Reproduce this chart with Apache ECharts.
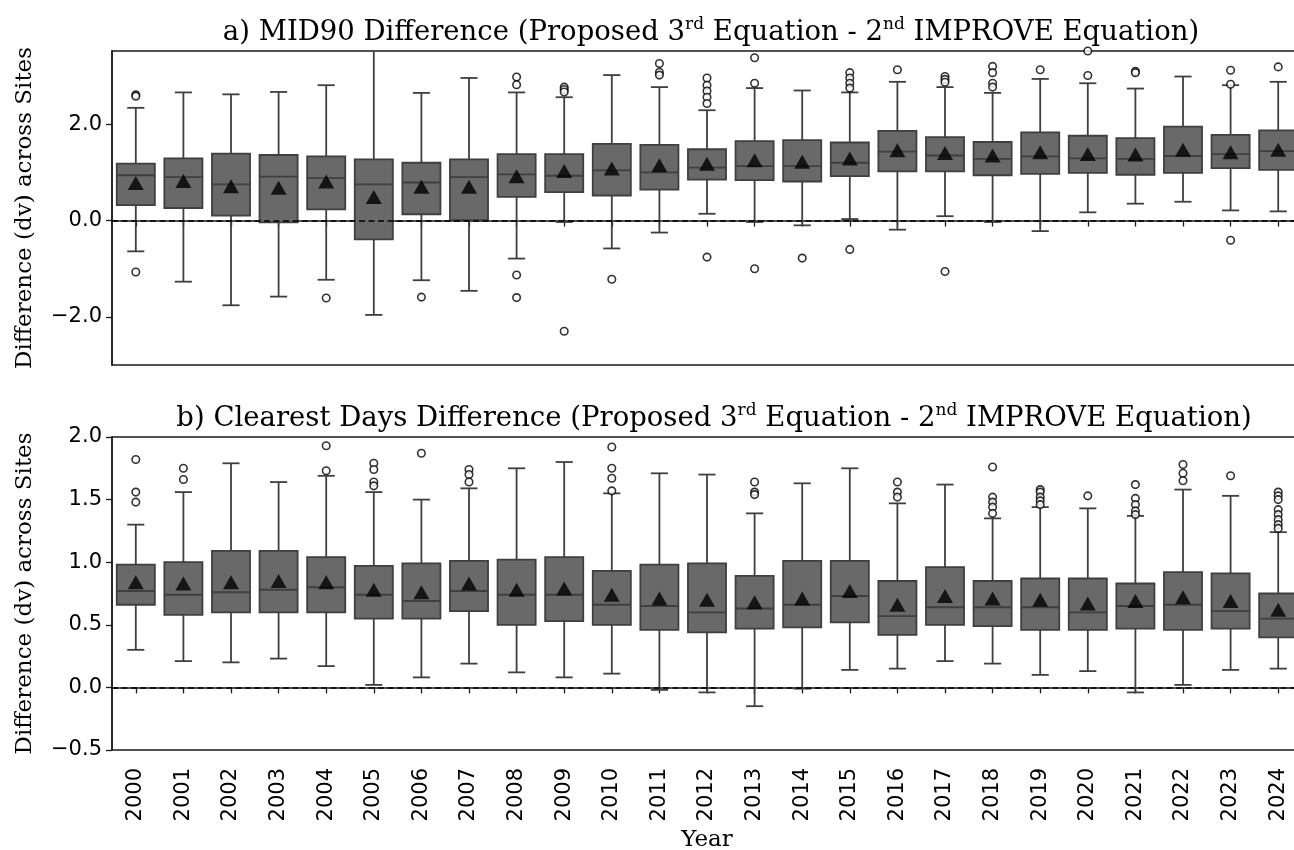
<!DOCTYPE html>
<html>
<head>
<meta charset="utf-8">
<script src="https://cdn.jsdelivr.net/npm/echarts@6/dist/echarts.min.js"></script>
<style>
  html, body { margin: 0; padding: 0; background: #fff; }
  #chart { width: 1294px; height: 850px; }
</style>
</head>
<body>
<div id="chart"></div>
<script>
// Years on the category axis
const years = ['2000','2001','2002','2003','2004','2005','2006','2007','2008','2009','2010','2011','2012',
               '2013','2014','2015','2016','2017','2018','2019','2020','2021','2022','2023','2024'];

// a) MID90 difference: whisker ends, quartiles, median, mean, outliers (dv)
const midLow  = [-0.64,-1.27,-1.76,-1.58,-1.23,-1.96,-1.24,-1.46,-0.79,-0.03,-0.58,-0.25,0.14,-0.03,-0.10,0.03,-0.19,0.09,-0.03,-0.22,0.17,0.35,0.39,0.21,0.19];
const midQ1   = [0.32,0.26,0.10,-0.04,0.23,-0.39,0.13,0.01,0.49,0.59,0.52,0.64,0.85,0.84,0.81,0.92,1.02,1.02,0.94,0.97,0.99,0.95,0.99,1.09,1.05];
const midMed  = [0.94,0.90,0.75,0.91,0.88,0.75,0.79,0.90,0.96,0.93,1.04,1.00,1.10,1.13,1.13,1.20,1.43,1.35,1.28,1.33,1.29,1.28,1.34,1.38,1.44];
const midQ3   = [1.18,1.29,1.39,1.36,1.33,1.27,1.20,1.27,1.38,1.38,1.59,1.57,1.48,1.65,1.67,1.62,1.86,1.73,1.63,1.83,1.76,1.71,1.95,1.78,1.87];
const midHigh = [2.34,2.66,2.62,2.67,2.81,3.60,2.65,2.96,2.66,2.56,3.02,2.77,2.29,2.75,2.70,2.66,2.88,2.77,2.65,2.94,2.85,2.74,2.99,2.81,2.88];
const midMean = [0.78,0.82,0.71,0.68,0.81,0.49,0.70,0.70,0.92,1.03,1.08,1.15,1.18,1.25,1.22,1.29,1.46,1.40,1.35,1.42,1.38,1.37,1.47,1.42,1.47];
const midOutliers = [
  [2.61,2.58,-1.07], [], [], [], [-1.61], [], [-1.59], [],
  [2.98,2.82,-1.13,-1.60], [2.77,2.72,2.67,-2.30], [-1.22], [3.26,3.08,3.02],
  [2.96,2.81,2.69,2.56,2.43,-0.76], [3.38,2.85,-1.00], [-0.78], [3.07,2.96,2.85,2.75,-0.60],
  [3.13], [2.99,2.93,2.87,-1.06], [3.20,3.07,2.85,2.77], [3.13], [3.52,3.01], [3.10,3.07],
  [], [3.12,2.83,-0.41], [3.19]
];

// b) Clearest days difference (dv)
const clrLow  = [0.30,0.21,0.20,0.23,0.17,0.02,0.08,0.19,0.12,0.08,0.11,-0.02,-0.04,-0.15,-0.01,0.14,0.15,0.21,0.19,0.10,0.13,-0.04,0.02,0.14,0.15];
const clrQ1   = [0.66,0.58,0.60,0.60,0.60,0.55,0.55,0.61,0.50,0.53,0.50,0.46,0.44,0.47,0.48,0.52,0.42,0.50,0.49,0.46,0.46,0.47,0.46,0.47,0.40];
const clrMed  = [0.77,0.74,0.76,0.78,0.80,0.74,0.69,0.77,0.74,0.74,0.66,0.65,0.60,0.63,0.66,0.73,0.57,0.64,0.64,0.64,0.60,0.65,0.66,0.61,0.55];
const clrQ3   = [0.98,1.00,1.09,1.09,1.04,0.97,0.99,1.01,1.02,1.04,0.93,0.98,0.99,0.89,1.01,1.01,0.85,0.96,0.85,0.87,0.87,0.83,0.92,0.91,0.75];
const clrHigh = [1.30,1.56,1.79,1.64,1.69,1.56,1.50,1.59,1.75,1.80,1.55,1.71,1.70,1.39,1.63,1.75,1.47,1.62,1.35,1.44,1.43,1.37,1.58,1.53,1.24];
const clrMean = [0.84,0.83,0.84,0.85,0.84,0.78,0.76,0.83,0.78,0.79,0.74,0.71,0.70,0.68,0.71,0.77,0.66,0.73,0.71,0.70,0.67,0.69,0.72,0.69,0.62];
const clrOutliers = [
  [1.82,1.56,1.48], [1.75,1.66], [], [], [1.93,1.73], [1.79,1.74,1.64,1.61], [1.87], [1.74,1.70,1.64],
  [], [], [1.92,1.75,1.67,1.57], [], [], [1.64,1.56,1.54], [], [],
  [1.64,1.56,1.52], [], [1.76,1.52,1.48,1.44,1.39], [1.58,1.56,1.52,1.49,1.46], [1.53],
  [1.62,1.51,1.46,1.41,1.38], [1.78,1.71,1.65], [1.69], [1.56,1.53,1.50,1.42,1.38,1.34,1.30,1.27]
];

// Tick values on the y axes
const midTicks = [-2, 0, 2];
const clrTicks = [-0.5, 0, 0.5, 1.0, 1.5, 2.0];

const SERIF = 'DejaVu Serif';
const SANS = 'DejaVu Sans';
const BOX_FILL = '#696969';
const BOX_LINE = '#3f3f3f';

function fmtTick(v) {
  return (v < 0 ? '\u2212' : '') + Math.abs(v).toFixed(1);
}

// Box, whiskers and caps drawn through the axis scales
function renderBox(params, api) {
  const i = api.value(0);
  const lo = api.coord([i, api.value(1)]);
  const q1 = api.coord([i, api.value(2)]);
  const md = api.coord([i, api.value(3)]);
  const q3 = api.coord([i, api.value(4)]);
  const hi = api.coord([i, api.value(5)]);
  const band = api.size([1, 0])[0];
  const bw = band * 0.8;
  const cw = band * 0.36;
  const cx = lo[0];
  const seg = (x1, y1, x2, y2) => ({
    type: 'line',
    shape: { x1, y1, x2, y2 },
    style: { stroke: BOX_LINE, lineWidth: 1.8 }
  });
  return {
    type: 'group',
    children: [
      seg(cx, hi[1], cx, q3[1]),
      seg(cx, q1[1], cx, lo[1]),
      seg(cx - cw / 2, hi[1], cx + cw / 2, hi[1]),
      seg(cx - cw / 2, lo[1], cx + cw / 2, lo[1]),
      {
        type: 'rect',
        shape: { x: cx - bw / 2, y: q3[1], width: bw, height: q1[1] - q3[1] },
        style: { fill: BOX_FILL, stroke: BOX_LINE, lineWidth: 1.8 }
      },
      seg(cx - bw / 2, md[1], cx + bw / 2, md[1])
    ]
  };
}

function boxData(low, q1, med, q3, high) {
  return years.map((y, i) => [i, low[i], q1[i], med[i], q3[i], high[i]]);
}
function meanData(mean) {
  return years.map((y, i) => [i, mean[i]]);
}
function outlierData(out) {
  const pts = [];
  out.forEach((vals, i) => vals.forEach(v => pts.push([i, v])));
  return pts;
}

function panelSeries(idx, low, q1, med, q3, high, mean, out) {
  return [
    {
      type: 'custom',
      xAxisIndex: idx, yAxisIndex: idx,
      renderItem: renderBox,
      clip: true,
      encode: { x: 0, y: [1, 2, 3, 4, 5] },
      data: boxData(low, q1, med, q3, high),
      z: 2
    },
    {
      type: 'line',
      xAxisIndex: idx, yAxisIndex: idx,
      data: [],
      z: 3,
      markLine: {
        silent: true,
        symbol: 'none',
        label: { show: false },
        lineStyle: { color: '#000', width: 1.7, type: [6, 3.5] },
        data: [{ yAxis: 0 }]
      }
    },
    {
      type: 'scatter',
      xAxisIndex: idx, yAxisIndex: idx,
      symbol: 'triangle',
      symbolSize: [16, 14],
      itemStyle: { color: '#000' },
      data: meanData(mean),
      z: 4
    },
    {
      type: 'scatter',
      xAxisIndex: idx, yAxisIndex: idx,
      symbol: 'circle',
      symbolSize: 7.5,
      clip: false,
      itemStyle: { color: '#fff', borderColor: '#000', borderWidth: 1.6 },
      data: outlierData(out),
      z: 5
    }
  ];
}

const titleRich = {
  sup: { fontFamily: SERIF, fontSize: 17, color: '#000', verticalAlign: 'top', lineHeight: 34 }
};

const axisLineStyle = { color: '#1a1a1a', width: 1.5 };

const option = {
  animation: false,
  backgroundColor: '#fff',
  title: [
    {
      text: 'a) MID90 Difference (Proposed 3{sup|rd} Equation - 2{sup|nd} IMPROVE Equation)',
      left: 706, top: 11, textAlign: 'center',
      textStyle: { fontFamily: SERIF, fontSize: 27.5, fontWeight: 'normal', color: '#000', lineHeight: 34, rich: titleRich }
    },
    {
      text: 'b) Clearest Days Difference (Proposed 3{sup|rd} Equation - 2{sup|nd} IMPROVE Equation)',
      left: 709, top: 397, textAlign: 'center',
      textStyle: { fontFamily: SERIF, fontSize: 27.5, fontWeight: 'normal', color: '#000', lineHeight: 34, rich: titleRich }
    }
  ],
  grid: [
    { left: 112, top: 51, width: 1190, height: 314, outerBoundsMode: 'none', containLabel: false,
      show: true, borderColor: '#1a1a1a', borderWidth: 1.5, backgroundColor: 'transparent' },
    { left: 112, top: 437, width: 1190, height: 313, outerBoundsMode: 'none', containLabel: false,
      show: true, borderColor: '#1a1a1a', borderWidth: 1.5, backgroundColor: 'transparent' }
  ],
  xAxis: [
    {
      type: 'category', gridIndex: 0, data: years,
      axisLine: { show: true, lineStyle: axisLineStyle },
      axisTick: { show: true, alignWithLabel: true, length: 6, lineStyle: { color: '#1a1a1a', width: 1.3 } },
      axisLabel: { show: false },
      splitLine: { show: false }
    },
    {
      type: 'category', gridIndex: 1, data: years,
      name: 'Year', nameLocation: 'middle', nameGap: 79,
      nameTextStyle: { fontFamily: SERIF, fontSize: 23, color: '#000' },
      axisLine: { show: true, lineStyle: axisLineStyle },
      axisTick: { show: true, alignWithLabel: true, length: 6, lineStyle: { color: '#1a1a1a', width: 1.3 } },
      axisLabel: { show: true, rotate: 90, margin: 18, fontFamily: SANS, fontSize: 21, color: '#000' },
      splitLine: { show: false }
    }
  ],
  yAxis: [
    {
      type: 'value', gridIndex: 0, min: -3.0, max: 3.52,
      name: 'Difference (dv) across Sites', nameLocation: 'middle', nameRotate: 90, nameGap: 75,
      nameTextStyle: { fontFamily: SERIF, fontSize: 23, color: '#000' },
      axisLine: { show: true, lineStyle: axisLineStyle },
      axisTick: { show: true, length: 6, customValues: midTicks, lineStyle: { color: '#1a1a1a', width: 1.3 } },
      axisLabel: { show: true, customValues: midTicks, formatter: fmtTick, margin: 10, fontFamily: SANS, fontSize: 21, color: '#000' },
      splitLine: { show: false }
    },
    {
      type: 'value', gridIndex: 1, min: -0.5, max: 2.0, interval: 0.5,
      name: 'Difference (dv) across Sites', nameLocation: 'middle', nameRotate: 90, nameGap: 75,
      nameTextStyle: { fontFamily: SERIF, fontSize: 23, color: '#000' },
      axisLine: { show: true, lineStyle: axisLineStyle },
      axisTick: { show: true, length: 6, customValues: clrTicks, lineStyle: { color: '#1a1a1a', width: 1.3 } },
      axisLabel: { show: true, customValues: clrTicks, formatter: fmtTick, margin: 10, fontFamily: SANS, fontSize: 21, color: '#000' },
      splitLine: { show: false }
    }
  ],
  series: [
    ...panelSeries(0, midLow, midQ1, midMed, midQ3, midHigh, midMean, midOutliers),
    ...panelSeries(1, clrLow, clrQ1, clrMed, clrQ3, clrHigh, clrMean, clrOutliers)
  ]
};

const chart = echarts.init(document.getElementById('chart'), null, { renderer: 'canvas' });
chart.setOption(option);
</script>
</body>
</html>
